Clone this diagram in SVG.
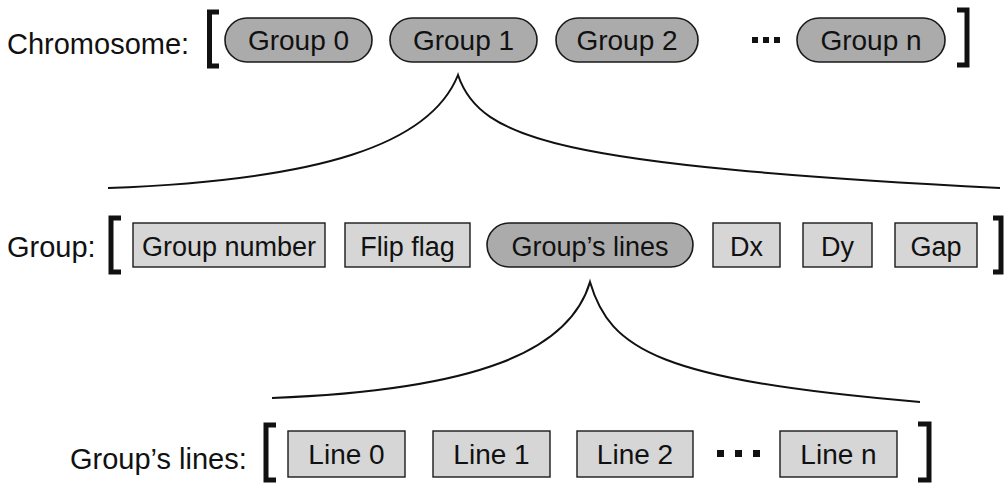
<svg xmlns="http://www.w3.org/2000/svg" width="1008" height="486" viewBox="0 0 1008 486">
<style>
text{font-family:"Liberation Sans",Arial,sans-serif;font-size:28px;fill:#111}
.lbl{font-size:29px}
.sm{font-size:27px}
.c{text-anchor:middle}
.pill{fill:#ababab;stroke:#1a1a1a;stroke-width:1.6}
.box{fill:#d6d6d6;stroke:#1a1a1a;stroke-width:1.4}
.br{fill:none;stroke:#111;stroke-width:5;stroke-linejoin:miter}
.cv{fill:none;stroke:#111;stroke-width:2}
.dot{fill:#111}
</style>
<rect width="1008" height="486" fill="#fff"/>
<g id="row-chromosome">
<text class="lbl" x="7" y="54">Chromosome:</text>
<path class="br" d="M219,12 H209.5 V66 H219"/>
<path class="br" d="M957,10 H967 V65 H957"/>
</g>
<g id="group0"><rect class="pill" x="225" y="18" width="147" height="44" rx="22"/><text class="c" x="298.5" y="50">Group 0</text></g>
<g id="group1"><rect class="pill" x="390" y="18" width="147" height="44" rx="22"/><text class="c" x="463.5" y="50">Group 1</text></g>
<g id="group2"><rect class="pill" x="556" y="18" width="142" height="44" rx="22"/><text class="c" x="627" y="50">Group 2</text></g>
<g id="dots1"><rect class="dot" x="752" y="37" width="6" height="6"/><rect class="dot" x="763" y="37" width="6" height="6"/><rect class="dot" x="774" y="37" width="6" height="6"/></g>
<g id="groupn"><rect class="pill" x="797" y="18" width="148" height="44" rx="22"/><text class="c" x="871" y="50">Group n</text></g>

<g id="row-group">
<text class="lbl" x="7" y="257">Group:</text>
<path class="br" d="M121,218 H111 V272 H121"/>
<path class="br" d="M993,218 H1001 V272 H993"/>
</g>
<g id="group-number"><rect class="box" x="133" y="223" width="192" height="44"/><text class="c sm" x="229" y="256">Group number</text></g>
<g id="flip-flag"><rect class="box" x="345" y="223" width="125" height="44"/><text class="c sm" x="407.5" y="256">Flip flag</text></g>
<g id="groups-lines"><rect class="pill" x="487" y="223" width="206" height="44" rx="22"/><text class="c sm" x="590" y="256">Group’s lines</text></g>
<g id="dx"><rect class="box" x="713" y="223" width="67" height="44"/><text class="c sm" x="746.5" y="256">Dx</text></g>
<g id="dy"><rect class="box" x="803" y="223" width="69" height="44"/><text class="c sm" x="837.5" y="256">Dy</text></g>
<g id="gap"><rect class="box" x="895" y="223" width="82" height="44"/><text class="c sm" x="936" y="256">Gap</text></g>

<g id="row-lines">
<text class="lbl" x="70" y="469">Group’s lines:</text>
<path class="br" d="M276,425 H266 V480 H276"/>
<path class="br" d="M918,424 H929 V480 H918"/>
</g>
<g id="line0"><rect class="box" x="288" y="431" width="117" height="46"/><text class="c" x="346.5" y="464">Line 0</text></g>
<g id="line1"><rect class="box" x="433" y="431" width="117" height="46"/><text class="c" x="491.5" y="464">Line 1</text></g>
<g id="line2"><rect class="box" x="577" y="431" width="116" height="46"/><text class="c" x="635" y="464">Line 2</text></g>
<g id="dots3"><rect class="dot" x="717" y="450" width="7" height="7"/><rect class="dot" x="735" y="450" width="7" height="7"/><rect class="dot" x="753" y="450" width="7" height="7"/></g>
<g id="linen"><rect class="box" x="780" y="431" width="117" height="46"/><text class="c" x="838.5" y="464">Line n</text></g>

<g id="connectors">
<path class="cv" d="M108,188 C320,180 430,145 458,75 C480,140 560,165 1000,188"/>
<path class="cv" d="M272,398 C480,390 570,350 590,282 C610,350 660,380 920,402"/>
</g>
</svg>
